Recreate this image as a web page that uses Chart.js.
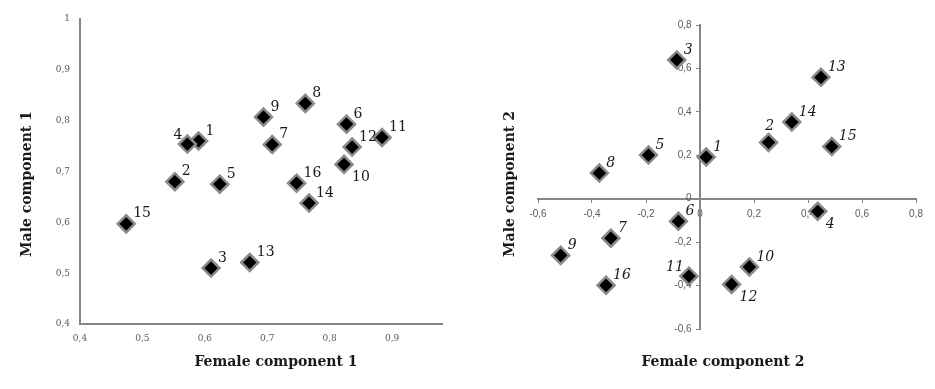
<!DOCTYPE html>
<html>
<head>
<meta charset="utf-8">
<script src="https://cdn.jsdelivr.net/npm/chart.js@4/dist/chart.umd.min.js"></script>
<style>
  html, body { margin: 0; padding: 0; background: #fff; }
  #wrap { position: relative; width: 935px; height: 389px; }
  .panel { position: absolute; top: 0; height: 389px; }
</style>
</head>
<body>
<div id="wrap">
  <div class="panel" style="left:0;width:470px"><canvas id="chart-left" width="470" height="389"></canvas></div>
  <div class="panel" style="left:470px;width:465px"><canvas id="chart-right" width="465" height="389"></canvas></div>
</div>
<script>
// ids of the 16 items (point labels)
const pointIds = ['1', '2', '3', '4', '5', '6', '7', '8', '9', '10', '11', '12', '13', '14', '15', '16'];

// component 1 (left plot)
const femaleComp1 = [0.590, 0.552, 0.610, 0.572, 0.624, 0.827, 0.708, 0.761, 0.694, 0.823, 0.884, 0.836, 0.672, 0.767, 0.474, 0.747];
const maleComp1   = [0.760, 0.680, 0.510, 0.754, 0.675, 0.793, 0.753, 0.834, 0.807, 0.714, 0.767, 0.748, 0.521, 0.638, 0.597, 0.677];

// component 2 (right plot)
const femaleComp2 = [0.023, 0.254, -0.086, 0.436, -0.191, -0.080, -0.330, -0.373, -0.516, 0.183, -0.041, 0.117, 0.448, 0.340, 0.488, -0.348];
const maleComp2   = [0.192, 0.259, 0.639, -0.058, 0.201, -0.104, -0.182, 0.118, -0.261, -0.314, -0.357, -0.395, 0.559, 0.353, 0.240, -0.399];

// tick values
const xTicks1 = [0.4, 0.5, 0.6, 0.7, 0.8, 0.9];
const yTicks1 = [0.4, 0.5, 0.6, 0.7, 0.8, 0.9, 1];
const xTicks2 = [-0.6, -0.4, -0.2, 0, 0.2, 0.4, 0.6, 0.8];
const yTicks2 = [-0.6, -0.4, -0.2, 0, 0.2, 0.4, 0.6, 0.8];

// where each label sits relative to its marker
const labelSide1 = ['ne', 'ne', 'ne', 'nw', 'ne', 'ne', 'ne', 'ne', 'ne', 'se', 'ne', 'ne', 'ne', 'ne', 'ne', 'ne'];
const labelSide2 = ['ne', 'n', 'ne', 'se', 'ne', 'ne', 'ne', 'ne', 'ne', 'ne', 'nw', 'se', 'ne', 'ne', 'ne', 'ne'];

const AXIS_GREY = '#868686';
const TICK_GREY = '#595959';

const fmt = (v) => String(v).replace('.', ',');
// centred y axis ignores ticks.padding, so pad the label itself
const fmtPadded = (v) => fmt(v) + '   ';

function toPoints(xs, ys) {
  return xs.map((x, i) => ({ x, y: ys[i] }));
}

// draws the item number next to each diamond
const pointLabels = {
  id: 'pointLabels',
  afterDatasetsDraw(chart, args, opts) {
    const { ctx } = chart;
    const meta = chart.getDatasetMeta(0);
    ctx.save();
    ctx.fillStyle = '#1a1a1a';
    ctx.font = opts.font;
    ctx.textBaseline = 'middle';
    meta.data.forEach((pt, i) => {
      const side = opts.sides[i];
      let dx = 7, dy = -10, align = 'left';
      if (side === 'nw') { dx = -5; dy = -9; align = 'right'; }
      if (side === 'se') { dx = 8; dy = 13; }
      if (side === 'n') { dx = 1; dy = -16; align = 'center'; }
      ctx.textAlign = align;
      ctx.fillText(opts.ids[i], pt.x + dx, pt.y + dy);
    });
    ctx.restore();
  }
};

// axis titles, placed outside the plotting frame
const axisTitles = {
  id: 'axisTitles',
  afterDraw(chart, args, opts) {
    const { ctx } = chart;
    ctx.save();
    ctx.fillStyle = '#1a1a1a';
    ctx.font = 'bold 14px "DejaVu Serif"';
    ctx.textAlign = 'center';
    ctx.textBaseline = 'middle';
    ctx.fillText(opts.x.text, opts.x.cx, opts.x.cy);
    ctx.translate(opts.y.cx, opts.y.cy);
    ctx.rotate(-Math.PI / 2);
    ctx.fillText(opts.y.text, 0, 0);
    ctx.restore();
  }
};

const markerStyle = {
  pointStyle: 'rectRot',
  pointRadius: 8.5,
  pointHoverRadius: 8.5,
  backgroundColor: '#000',
  borderColor: '#8a8a8a',
  borderWidth: 2.5,
};

// ---- left: component 1 ----
new Chart(document.getElementById('chart-left'), {
  type: 'scatter',
  data: {
    datasets: [{ data: toPoints(femaleComp1, maleComp1), ...markerStyle }],
  },
  options: {
    responsive: false,
    animation: false,
    layout: { padding: { left: 0, top: 19, right: 28, bottom: 0 } },
    scales: {
      x: {
        type: 'linear',
        min: 0.4,
        max: 0.98,
        afterBuildTicks: (s) => { s.ticks = xTicks1.map((value) => ({ value })); },
        afterFit: (s) => { s.height = 65; },
        grid: { display: false, drawTicks: false },
        border: { display: true, color: AXIS_GREY, width: 2 },
        ticks: { color: TICK_GREY, font: { family: 'DejaVu Serif', size: 9 }, padding: 9, callback: fmt, autoSkip: false, maxRotation: 0 },
      },
      y: {
        type: 'linear',
        min: 0.4,
        max: 1,
        afterBuildTicks: (s) => { s.ticks = yTicks1.map((value) => ({ value })); },
        afterFit: (s) => { s.width = 80; },
        grid: { display: false, drawTicks: false },
        border: { display: true, color: AXIS_GREY, width: 2 },
        ticks: { color: TICK_GREY, font: { family: 'DejaVu Serif', size: 9 }, padding: 10, callback: fmt, autoSkip: false },
      },
    },
    plugins: {
      legend: { display: false },
      tooltip: { enabled: false },
      pointLabels: { ids: pointIds, sides: labelSide1, font: '14px "DejaVu Serif"' },
      axisTitles: {
        x: { text: 'Female component 1', cx: 276, cy: 362 },
        y: { text: 'Male component 1', cx: 27, cy: 184 },
      },
    },
  },
  plugins: [pointLabels, axisTitles],
});

// ---- right: component 2, axes crossing at zero ----
new Chart(document.getElementById('chart-right'), {
  type: 'scatter',
  data: {
    datasets: [{ data: toPoints(femaleComp2, maleComp2), ...markerStyle }],
  },
  options: {
    responsive: false,
    animation: false,
    layout: { padding: { left: 68, top: 25, right: 19, bottom: 60 } },
    scales: {
      x: {
        type: 'linear',
        position: { y: 0 },
        min: -0.6,
        max: 0.8,
        afterBuildTicks: (s) => { s.ticks = xTicks2.map((value) => ({ value })); },
        afterFit: (s) => { s.height = 0; },
        grid: { display: true, drawOnChartArea: false, drawTicks: true, tickLength: 3, color: AXIS_GREY, lineWidth: 1 },
        border: { display: true, color: AXIS_GREY, width: 2 },
        ticks: { color: TICK_GREY, font: { family: 'Liberation Sans', size: 10 }, padding: 7, callback: fmt, autoSkip: false, maxRotation: 0 },
      },
      y: {
        type: 'linear',
        position: { x: 0 },
        min: -0.6,
        max: 0.8,
        afterBuildTicks: (s) => { s.ticks = yTicks2.map((value) => ({ value })); },
        afterFit: (s) => { s.width = 0; },
        grid: { display: true, drawOnChartArea: false, drawTicks: true, tickLength: 3, color: AXIS_GREY, lineWidth: 1 },
        border: { display: true, color: AXIS_GREY, width: 2 },
        ticks: { color: TICK_GREY, font: { family: 'Liberation Sans', size: 10 }, padding: 8, callback: fmtPadded, autoSkip: false },
      },
    },
    plugins: {
      legend: { display: false },
      tooltip: { enabled: false },
      pointLabels: { ids: pointIds, sides: labelSide2, font: 'italic 14px "DejaVu Serif"' },
      axisTitles: {
        x: { text: 'Female component 2', cx: 253, cy: 362 },
        y: { text: 'Male component 2', cx: 40, cy: 184 },
      },
    },
  },
  plugins: [pointLabels, axisTitles],
});
</script>
</body>
</html>
